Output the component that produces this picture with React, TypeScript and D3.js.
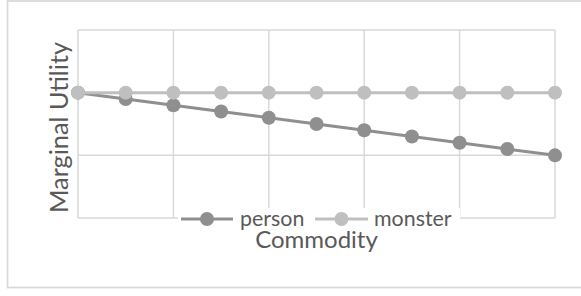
import React from "react";
import * as d3 from "d3";

const commodity = [0, 1, 2, 3, 4, 5, 6, 7, 8, 9, 10];
const person = [2.0, 1.9, 1.8, 1.7, 1.6, 1.5, 1.4, 1.3, 1.2, 1.1, 1.0];
const monster = [2, 2, 2, 2, 2, 2, 2, 2, 2, 2, 2];
const xTicks = [0, 2, 4, 6, 8, 10];
const yTicks = [0, 1, 2, 3];
const seriesNames = ["person", "monster"];

const W = 581;
const H = 296;
const FONT = "Lato, 'Open Sans', sans-serif";
const TEXT = "#595959";
const GRID = "#d9d9d9";
const COLORS = ["#8f8f8f", "#bfbfbf"];

export default function App() {
  const x = d3.scaleLinear().domain([0, 10]).range([78, 555]);
  const y = d3.scaleLinear().domain([0, 3]).range([218, 30]);
  const line = d3
    .line<number>()
    .x((_, i) => x(commodity[i]))
    .y((d) => y(d));
  const series = [person, monster];

  return (
    <div style={{ position: "absolute", left: 0, top: 0 }}>
      <svg width={W} height={H} style={{ display: "block" }}>
        <rect x={0} y={0} width={W} height={H} fill="#fff" />
        <rect x={7.5} y={1} width={W + 10} height={286.5} fill="none" stroke={GRID} strokeWidth={1.75} />
        {yTicks.map((t) => (
          <line key={"gy" + t} x1={x(0)} x2={x(10)} y1={y(t)} y2={y(t)} stroke={GRID} strokeWidth={1.5} />
        ))}
        {xTicks.map((t) => (
          <line key={"gx" + t} x1={x(t)} x2={x(t)} y1={y(0)} y2={y(3)} stroke={GRID} strokeWidth={1.5} />
        ))}
        {series.map((s, k) => (
          <g key={"s" + k}>
            <path d={line(s) || ""} fill="none" stroke={COLORS[k]} strokeWidth={3} />
            {s.map((v, i) => (
              <circle key={i} cx={x(commodity[i])} cy={y(v)} r={7} fill={COLORS[k]} />
            ))}
          </g>
        ))}
        <text
          transform={`translate(67.5,127.5) rotate(-90)`}
          textAnchor="middle"
          fontFamily={FONT}
          fontSize={25.3}
          fill={TEXT}
        >
          Marginal Utility
        </text>
        <rect x={178} y={208} width={282} height={20} fill="#fff" />
        {[
          { x1: 181, x2: 233, tx: 240 },
          { x1: 315, x2: 368, tx: 374 },
        ].map((l, k) => (
          <g key={"lg" + k}>
            <line x1={l.x1} x2={l.x2} y1={219} y2={219} stroke={COLORS[k]} strokeWidth={3} />
            <circle cx={(l.x1 + l.x2) / 2} cy={219} r={7} fill={COLORS[k]} />
            <text x={l.tx} y={225.5} fontFamily={FONT} fontSize={21.4} fill={TEXT}>
              {seriesNames[k]}
            </text>
          </g>
        ))}
        <text x={(x(0) + x(10)) / 2} y={247.5} textAnchor="middle" fontFamily={FONT} fontSize={24} fill={TEXT}>
          Commodity
        </text>
      </svg>
    </div>
  );
}
